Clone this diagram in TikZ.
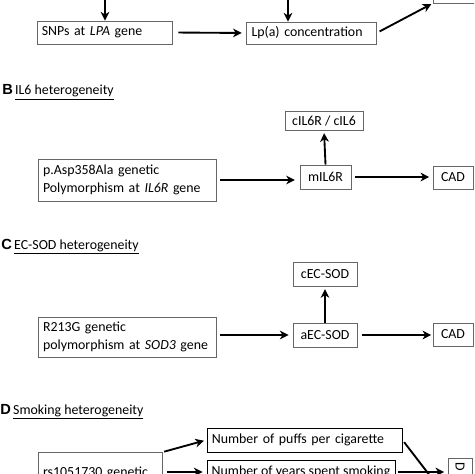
\documentclass[tikz,border=0pt]{standalone}
\usepackage{fontspec}
\setmainfont{Carlito}
\newfontfamily\headfont{Liberation Sans}
\usetikzlibrary{arrows.meta}
\begin{document}
\begin{tikzpicture}[x=0.75pt,y=-0.75pt,
  box/.style={draw=gray!80!black, line width=0.7pt, inner xsep=3.5pt, inner ysep=0pt, font=\fontsize{10.4}{13.2}\selectfont, align=left},
  dbox/.style={box, draw=black},
  arr/.style={-{Stealth[length=6.5pt,width=6.5pt,inset=2pt]}, line width=1.4pt, black},
  head/.style={anchor=base west, inner sep=0pt, font=\fontsize{10.4}{12}\selectfont}]
\useasboundingbox (0,0) rectangle (474,474);
\clip (0,0) rectangle (474,474);
% Panel A (cropped)
\node[box, minimum width=101.25pt, minimum height=17.25pt, text width=94pt] (snp) at (104.5,32.5) {SNPs at \textit{LPA} gene};
\node[box, minimum width=96.75pt, minimum height=16.5pt, text width=90pt] (lpa) at (311.5,33) {Lp(a) concentration};
\node[box, minimum width=42.75pt, minimum height=17.25pt] (tr) at (461.5,-8.5) {};
\coordinate (a1) at (105,-3);
\coordinate (a2) at (288,-3);
\draw[arr] (a1) -- (a1 |- snp.north);
\draw[arr] (a2) -- (a2 |- lpa.north);
\draw[arr, shorten <=4.5pt, shorten >=3.5pt] (snp.east) -- (lpa.west);
\draw[arr, shorten <=2.5pt, shorten >=1pt] (lpa.east) -- (tr.south west);
% Panel B
\node[head] (hb) at (2,95) {{\headfont\bfseries\fontsize{11}{12}\selectfont B}\,\underline{IL6 heterogeneity}};
\node[box, minimum width=58.5pt, minimum height=14.25pt, align=center] (cil) at (324,120.5) {cIL6R / cIL6};
\node[box, minimum width=133.5pt, minimum height=31.5pt, text width=126pt] (asp) at (127,180) {p.Asp358Ala genetic\\Polymorphism at \textit{IL6R} gene};
\node[box, minimum width=38.25pt, minimum height=18pt, align=center] (mil) at (325.5,177) {mIL6R};
\node[box, minimum width=30pt, minimum height=17.25pt, align=center] (cadb) at (453,177.5) {CAD};
\draw[arr, shorten >=2pt] (mil.north) -- (cil.south);
\draw[arr, shorten <=3pt, shorten >=3.5pt] (asp.east) -- (asp.east -| mil.west);
\draw[arr, shorten <=3pt, shorten >=2.5pt] (mil.east) -- (mil.east -| cadb.west);
% Panel C
\node[head] (hc) at (1,249) {{\headfont\bfseries\fontsize{11}{12}\selectfont C}\,\underline{EC-SOD heterogeneity}};
\node[box, minimum width=48pt, minimum height=18pt, align=center] (cec) at (325,274) {cEC-SOD};
\node[box, minimum width=133.5pt, minimum height=30pt, text width=126pt] (r213) at (127,337) {R213G genetic\\polymorphism at \textit{SOD3} gene};
\node[box, minimum width=48pt, minimum height=18pt, align=center] (aec) at (325,335) {aEC-SOD};
\node[box, minimum width=30pt, minimum height=17.25pt, align=center] (cadc) at (453,334.5) {CAD};
\draw[arr, shorten >=2pt] (aec.north) -- (cec.south);
\draw[arr, shorten <=3pt, shorten >=3pt] (r213.east |- aec.west) -- (aec.west);
\draw[arr, shorten <=3.5pt, shorten >=1pt] (aec.east) -- (aec.east -| cadc.west);
% Panel D (cropped)
\node[head] (hd) at (0,414) {{\headfont\bfseries\fontsize{11}{12}\selectfont D}\,\underline{Smoking heterogeneity}};
\node[dbox, minimum width=146.25pt, minimum height=18pt, text width=139pt] (puffs) at (304.5,440) {Number of puffs per cigarette};
\node[box, minimum width=93pt, minimum height=36pt, text width=86pt, text height=7.5pt, text depth=7.5pt, anchor=north west] (rs) at (38,452) {rs1051730 genetic};
\node[dbox, minimum width=141pt, minimum height=18pt, align=center, inner xsep=1pt] (years) at (301,472) {Number of years spent smoking};
\node[box, rotate=-90, anchor=west, minimum width=54pt, minimum height=18pt, text width=48pt, inner xsep=3pt] (dx) at (460,458) {D};
\draw[arr, shorten <=1pt, shorten >=2pt] (rs.north east) -- (puffs.west);
\draw[arr, shorten <=3pt, shorten >=3pt] (rs.east |- years.west) -- (years.west);
\draw[arr, shorten <=2pt, shorten >=3pt] (puffs.east) -- (dx.north east);
\draw[arr, shorten <=2pt, shorten >=2.5pt] (years.east) -- (years.east -| dx.south);
\end{tikzpicture}
\end{document}
